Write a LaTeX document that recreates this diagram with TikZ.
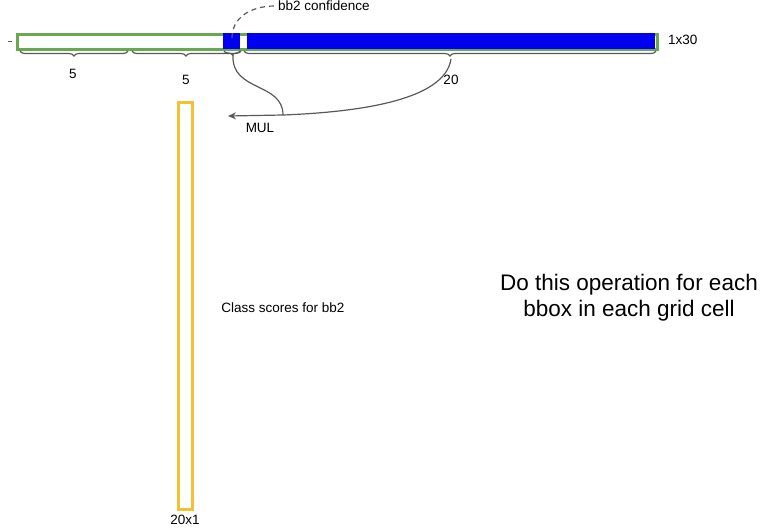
\documentclass[tikz,border=0pt]{standalone}
\usepackage{fontspec}
\setmainfont{Liberation Sans}
\usetikzlibrary{decorations.pathreplacing,arrows.meta}
\definecolor{gbar}{HTML}{6AA84F}
\definecolor{bbox}{HTML}{0000F0}
\definecolor{ybox}{HTML}{F1C232}
\definecolor{lgray}{HTML}{595959}
\tikzset{
  lbl/.style={font=\fontsize{13.5}{16}\selectfont, inner sep=0pt},
  big/.style={font=\fontsize{22.5}{26}\selectfont, align=center, inner sep=0pt},
  bracestyle/.style={draw=lgray, line width=1.2pt, decorate, decoration={brace, mirror, amplitude=5pt}},
  conn/.style={draw=lgray, line width=1.2pt},
}
\begin{document}
\begin{tikzpicture}[x=1pt,y=-1pt]
\useasboundingbox (0,0) rectangle (761,528);
% main bar
\draw[gbar, line width=3pt, fill=white] (17,34) rectangle (657,49);
\fill[bbox] (223,33) rectangle (240,49);
\fill[bbox] (247,33) rectangle (655,49);
\draw[lgray, line width=1pt] (8,41) -- (12,41);
\node[lbl, anchor=west] (dim) at (668,40) {1x30};
% braces
\draw[bracestyle] (20,51) -- (128,51);
\draw[bracestyle] (132,51) -- (240,51);
\draw[bracestyle] (244,51) -- (656,51);
\draw[bracestyle, decoration={brace, mirror, amplitude=4pt}] (224,51) -- (241,51);
\coordinate (t3) at (451,59);
\coordinate (tsmall) at (233,55);
\node[lbl] (l1) at (73,74) {5};
\node[lbl] (l2) at (186,80) {5};
\node[lbl] (l3) at (451,80) {20};
% confidence
\coordinate (conf) at (232,38);
\node[lbl, anchor=west] (ctext) at (278,6) {bb2 confidence};
\draw[lgray, line width=1.2pt, dash pattern=on 5pt off 4pt] (conf) .. controls (232,18) and (250,6) .. ([xshift=-3pt]ctext.west);
% MUL
\coordinate (mulr) at (283,115);
\coordinate (mull) at (228,116);
\draw[conn] (tsmall) .. controls (231,92) and (283,82) .. (mulr);
\draw[conn] (t3) .. controls (445,100) and (360,112) .. (mulr);
\draw[conn, -{Stealth[length=8pt,width=7pt]}] (mulr) -- (mull);
\node[lbl] (mul) at (260,128) {MUL};
% yellow column
\draw[ybox, line width=3pt] (178,102) rectangle (192,509);
\node[lbl] (ydim) at (185,520) {20x1};
\node[lbl] (cls) at (283,308) {Class scores for bb2};
\node[big] (note) at (629,298) {Do this operation for each\\bbox in each grid cell};
\end{tikzpicture}
\end{document}
